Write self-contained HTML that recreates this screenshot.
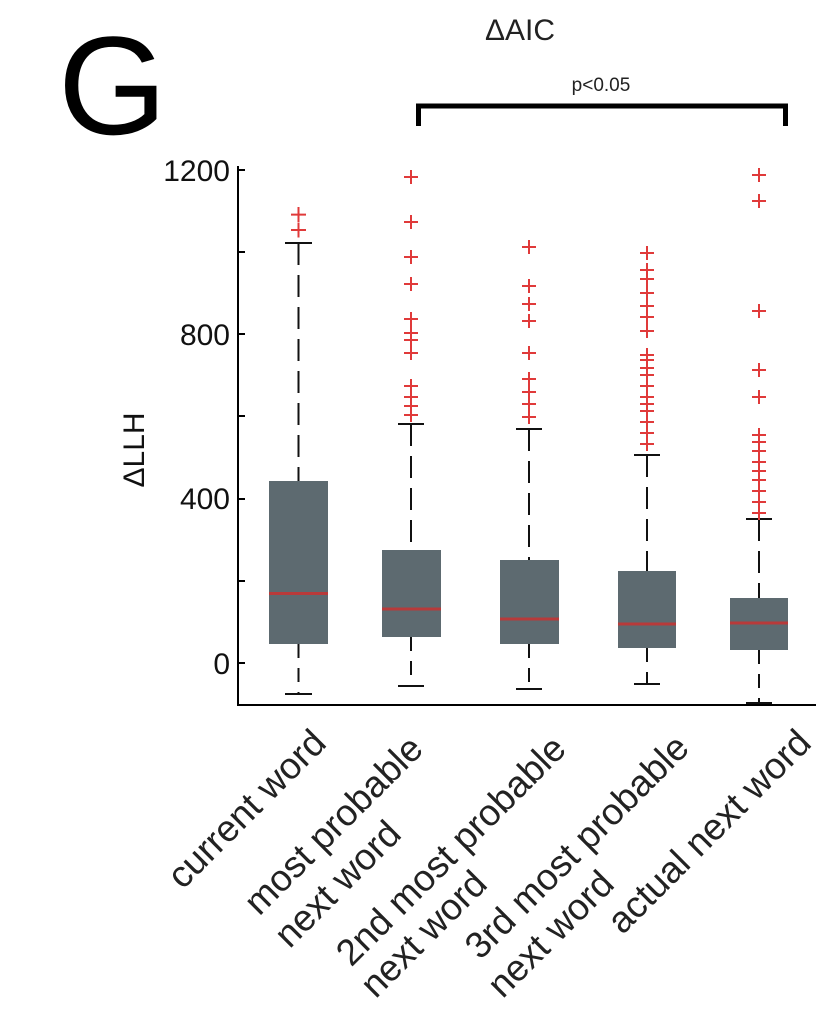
<!DOCTYPE html>
<html><head><meta charset="utf-8"><style>
html,body{margin:0;padding:0;background:#fff;}
svg{display:block;font-family:"Liberation Sans",Arial,sans-serif;}
</style></head><body>
<svg width="816" height="1020" viewBox="0 0 816 1020" xmlns="http://www.w3.org/2000/svg">
<text x="58" y="134" font-size="140" fill="#000">G</text>
<text x="520" y="40" font-size="30" text-anchor="middle" fill="#222">ΔAIC</text>
<text x="601" y="91" font-size="19" text-anchor="middle" fill="#222">p&lt;0.05</text>
<path d="M418.5 126 V106 H785.5 V126" fill="none" stroke="#000" stroke-width="5"/>
<text transform="translate(144,450) rotate(-90)" font-size="30" text-anchor="middle" fill="#111">ΔLLH</text>
<g font-size="30" text-anchor="end" fill="#111">
<text x="230" y="181">1200</text>
<text x="230" y="345">800</text>
<text x="230" y="509">400</text>
<text x="230" y="674">0</text>
</g>
<g stroke="#000" stroke-width="2">
<line x1="238" y1="166" x2="238" y2="705"/>
<line x1="237" y1="705" x2="816" y2="705"/>
<line x1="238" y1="170" x2="245" y2="170"/>
<line x1="238" y1="252" x2="245" y2="252"/>
<line x1="238" y1="334" x2="245" y2="334"/>
<line x1="238" y1="416" x2="245" y2="416"/>
<line x1="238" y1="499" x2="245" y2="499"/>
<line x1="238" y1="581" x2="245" y2="581"/>
<line x1="238" y1="663" x2="245" y2="663"/>
</g>
<g stroke="#111" stroke-width="2">
<line x1="298.5" y1="243" x2="298.5" y2="481" stroke-dasharray="22,10"/>
<line x1="298.5" y1="644" x2="298.5" y2="694" stroke-dasharray="14,10"/>
<line x1="285" y1="243" x2="312" y2="243"/><line x1="285" y1="694" x2="312" y2="694"/>
<line x1="411" y1="424" x2="411" y2="550" stroke-dasharray="22,10"/>
<line x1="411" y1="637" x2="411" y2="686" stroke-dasharray="14,10"/>
<line x1="398" y1="424" x2="424" y2="424"/><line x1="398" y1="686" x2="424" y2="686"/>
<line x1="529" y1="429" x2="529" y2="560" stroke-dasharray="22,10"/>
<line x1="529" y1="644" x2="529" y2="689" stroke-dasharray="14,10"/>
<line x1="516" y1="429" x2="542" y2="429"/><line x1="516" y1="689" x2="542" y2="689"/>
<line x1="647" y1="455" x2="647" y2="571" stroke-dasharray="22,10"/>
<line x1="647" y1="648" x2="647" y2="684" stroke-dasharray="14,10"/>
<line x1="634" y1="455" x2="660" y2="455"/><line x1="634" y1="684" x2="660" y2="684"/>
<line x1="759" y1="519" x2="759" y2="598" stroke-dasharray="22,10"/>
<line x1="759" y1="650" x2="759" y2="703" stroke-dasharray="14,10"/>
<line x1="746" y1="519" x2="772" y2="519"/><line x1="746" y1="703" x2="772" y2="703"/>
</g>
<g fill="#5d6a70">
<rect x="269" y="481" width="59" height="163"/>
<rect x="382" y="550" width="59" height="87"/>
<rect x="500" y="560" width="59" height="84"/>
<rect x="618" y="571" width="58" height="77"/>
<rect x="730" y="598" width="58" height="52"/>
</g>
<g stroke="#b83a3a" stroke-width="3">
<line x1="269" y1="593.5" x2="328" y2="593.5"/>
<line x1="382" y1="609" x2="441" y2="609"/>
<line x1="500" y1="619" x2="559" y2="619"/>
<line x1="618" y1="624" x2="676" y2="624"/>
<line x1="730" y1="623" x2="788" y2="623"/>
</g>
<g stroke="#e03a3a" stroke-width="2" fill="none">
<path d="M291 214.6h15M298.5 207v15 M291 230h15M298.5 222.5v15"/>
<path d="M404 177h14M411 170v14 M404 222h14M411 215v14 M404 257h14M411 250v14 M404 284h14M411 277v14 M404 319h14M411 312v14 M404 333h14M411 326v14 M404 340h14M411 333v14 M404 353h14M411 346v14 M404 386h14M411 379v14 M404 397h14M411 390v14 M404 406h14M411 399v14 M404 415h14M411 408v14"/>
<path d="M522 247h14M529 240v14 M522 286h14M529 279v14 M522 304h14M529 297v14 M522 321h14M529 314v14 M522 353h14M529 346v14 M522 379h14M529 372v14 M522 392h14M529 385v14 M522 404h14M529 397v14 M522 417h14M529 410v14"/>
<path d="M640 253h14M647 246v14 M640 270h14M647 263v14 M640 279h14M647 272v14 M640 293h14M647 286v14 M640 306h14M647 299v14 M640 317h14M647 310v14 M640 331h14M647 324v14 M640 355h14M647 348v14 M640 360h14M647 353v14 M640 368h14M647 361v14 M640 375h14M647 368v14 M640 386h14M647 379v14 M640 397h14M647 390v14 M640 404h14M647 397v14 M640 411h14M647 404v14 M640 422h14M647 415v14 M640 433h14M647 426v14 M640 444h14M647 437v14"/>
<path d="M752 175h14M759 168v14 M752 201h14M759 194v14 M752 311h14M759 304v14 M752 370h14M759 363v14 M752 397h14M759 390v14 M752 435h14M759 428v14 M752 442h14M759 435v14 M752 451h14M759 444v14 M752 462h14M759 455v14 M752 471h14M759 464v14 M752 480h14M759 473v14 M752 491h14M759 484v14 M752 502h14M759 495v14 M752 513h14M759 506v14"/>
</g>
<g font-size="37" fill="#222" text-anchor="end">
<text transform="translate(328,745) rotate(-45)">current word</text>
<text transform="translate(425,751) rotate(-45)">most probable</text>
<text transform="translate(403,836) rotate(-45)">next word</text>
<text transform="translate(568,751) rotate(-45)">2nd most probable</text>
<text transform="translate(489,886) rotate(-45)">next word</text>
<text transform="translate(691,750) rotate(-45)">3rd most probable</text>
<text transform="translate(616,886) rotate(-45)">next word</text>
<text transform="translate(813,745) rotate(-45)">actual next word</text>
</g>
</svg>
</body></html>
